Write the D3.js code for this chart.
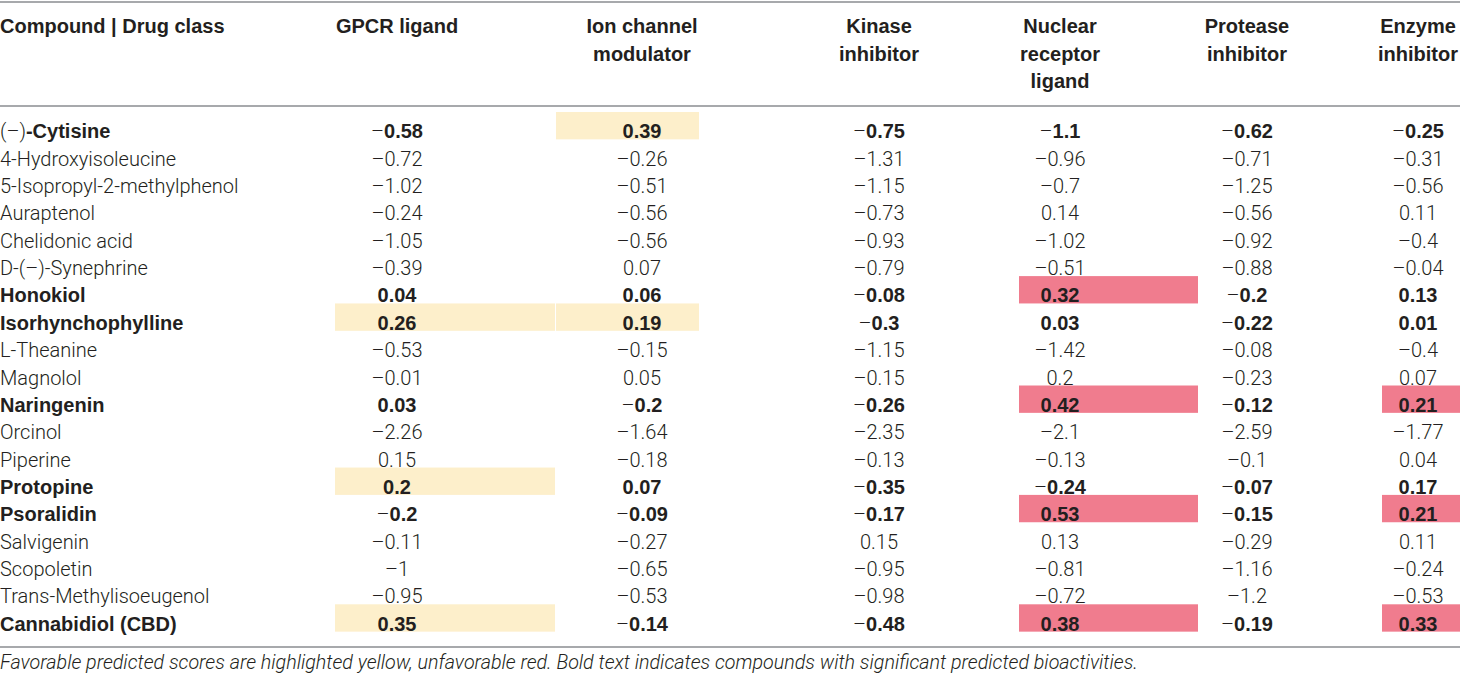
<!DOCTYPE html>
<html>
<head>
<meta charset="utf-8">
<script src="https://cdn.jsdelivr.net/npm/d3@7"></script>
<style>
  body { margin: 0; background: #fff; }
  svg { display: block; }
  text { font-family: Roboto, "Liberation Sans", sans-serif; fill: #231f20; }
  .b { font-family: "Liberation Sans", Arial, sans-serif; font-weight: 700; }
  .l { font-family: Roboto, sans-serif; font-weight: 300; }
</style>
</head>
<body>
<div id="table"></div>
<script>
// Column headers (drug classes), one array of lines per column
var drugClasses = ['GPCR ligand', 'Ion channel modulator', 'Kinase inhibitor',
                   'Nuclear receptor ligand', 'Protease inhibitor', 'Enzyme inhibitor'];
var headerLines = [['GPCR ligand'], ['Ion channel', 'modulator'], ['Kinase', 'inhibitor'],
                   ['Nuclear', 'receptor', 'ligand'], ['Protease', 'inhibitor'], ['Enzyme', 'inhibitor']];

// Compounds (rows); a leading "(–)" is drawn in light weight
var compounds = ['(–)-Cytisine', '4-Hydroxyisoleucine', '5-Isopropyl-2-methylphenol', 'Auraptenol',
                 'Chelidonic acid', 'D-(–)-Synephrine', 'Honokiol', 'Isorhynchophylline', 'L-Theanine',
                 'Magnolol', 'Naringenin', 'Orcinol', 'Piperine', 'Protopine', 'Psoralidin',
                 'Salvigenin', 'Scopoletin', 'Trans-Methylisoeugenol', 'Cannabidiol (CBD)'];
var significant = ['(–)-Cytisine', 'Honokiol', 'Isorhynchophylline', 'Naringenin',
                   'Protopine', 'Psoralidin', 'Cannabidiol (CBD)'];

// Predicted scores, one array per drug class, in compound order
var gpcr     = [-0.58, -0.72, -1.02, -0.24, -1.05, -0.39, 0.04, 0.26, -0.53, -0.01, 0.03, -2.26, 0.15, 0.2, -0.2, -0.11, -1, -0.95, 0.35];
var ionChan  = [0.39, -0.26, -0.51, -0.56, -0.56, 0.07, 0.06, 0.19, -0.15, 0.05, -0.2, -1.64, -0.18, 0.07, -0.09, -0.27, -0.65, -0.53, -0.14];
var kinase   = [-0.75, -1.31, -1.15, -0.73, -0.93, -0.79, -0.08, -0.3, -1.15, -0.15, -0.26, -2.35, -0.13, -0.35, -0.17, 0.15, -0.95, -0.98, -0.48];
var nuclear  = [-1.1, -0.96, -0.7, 0.14, -1.02, -0.51, 0.32, 0.03, -1.42, 0.2, 0.42, -2.1, -0.13, -0.24, 0.53, 0.13, -0.81, -0.72, 0.38];
var protease = [-0.62, -0.71, -1.25, -0.56, -0.92, -0.88, -0.2, -0.22, -0.08, -0.23, -0.12, -2.59, -0.1, -0.07, -0.15, -0.29, -1.16, -1.2, -0.19];
var enzyme   = [-0.25, -0.31, -0.56, 0.11, -0.4, -0.04, 0.13, 0.01, -0.4, 0.07, 0.21, -1.77, 0.04, 0.17, 0.21, 0.11, -0.24, -0.53, 0.33];

// Highlighted cells: [compound, drug class]
var favorable = [['(–)-Cytisine', 'Ion channel modulator'], ['Isorhynchophylline', 'GPCR ligand'],
                 ['Isorhynchophylline', 'Ion channel modulator'], ['Protopine', 'GPCR ligand'],
                 ['Cannabidiol (CBD)', 'GPCR ligand']];
var unfavorable = [['Honokiol', 'Nuclear receptor ligand'], ['Naringenin', 'Nuclear receptor ligand'],
                   ['Naringenin', 'Enzyme inhibitor'], ['Psoralidin', 'Nuclear receptor ligand'],
                   ['Psoralidin', 'Enzyme inhibitor'], ['Cannabidiol (CBD)', 'Nuclear receptor ligand'],
                   ['Cannabidiol (CBD)', 'Enzyme inhibitor']];

var footnote = 'Favorable predicted scores are highlighted yellow, unfavorable red. Bold text indicates compounds with significant predicted bioactivities.';

var scores = [gpcr, ionChan, kinase, nuclear, protease, enzyme];

// Layout
var width = 1460, height = 680;

var svg = d3.select('#table')
            .append('svg')
            .attr('width', width)
            .attr('height', height);

// Column text centres and cell extents
var colX = d3.scaleOrdinal()
             .domain(drugClasses)
             .range([397, 642, 879, 1060, 1247, 1418]);
var cellLeft = d3.scaleOrdinal()
                 .domain(drugClasses)
                 .range([335, 556, 699, 1019, 1198, 1382]);
var cellRight = d3.scaleOrdinal()
                  .domain(drugClasses)
                  .range([555, 699, 1019, 1198, 1382, 1460]);

// Row bands
var y = d3.scaleBand()
          .domain(compounds)
          .range([112, 112 + 19 * 27.35])
          .paddingInner(0);

// Rules
var rules = [2, 106, 647];
svg.selectAll('line.rule')
   .data(rules)
   .enter().append('line')
   .attr('class', 'rule')
   .attr('x1', 0)
   .attr('x2', width)
   .attr('y1', function(d) { return d; })
   .attr('y2', function(d) { return d; })
   .attr('stroke', '#a7a9ac')
   .attr('stroke-width', 2);

// Highlight cells
function drawCells(cells, colour) {
  svg.append('g')
     .selectAll('rect')
     .data(cells)
     .enter().append('rect')
     .attr('x', function(d) { return cellLeft(d[1]); })
     .attr('y', function(d) { return y(d[0]); })
     .attr('width', function(d) { return cellRight(d[1]) - cellLeft(d[1]); })
     .attr('height', y.bandwidth())
     .attr('fill', colour);
}
drawCells(favorable, '#fdefcb');
drawCells(unfavorable, '#f07c8e');

var boldSize = 20, lightSize = 20;

// Header
var header = svg.append('g').attr('font-size', boldSize);

header.append('text')
      .attr('class', 'b')
      .attr('x', 0)
      .attr('y', 33)
      .text('Compound | Drug class');

drugClasses.forEach(function(c, i) {
  header.append('text')
        .attr('class', 'b')
        .attr('text-anchor', 'middle')
        .selectAll('tspan')
        .data(headerLines[i])
        .enter().append('tspan')
        .attr('x', colX(c))
        .attr('y', function(d, j) { return 33 + j * 27.5; })
        .text(function(d) { return d; });
});

// Body rows
var rows = svg.append('g')
              .selectAll('g')
              .data(compounds)
              .enter().append('g')
              .attr('transform', function(d) { return 'translate(0,' + (y(d) + y.bandwidth() - 1) + ')'; });

function isBold(name) { return significant.indexOf(name) >= 0; }

// compound names: in bold rows a leading "(–)" stays light
rows.append('text')
    .attr('x', 0)
    .each(function(name) {
      var t = d3.select(this);
      if (isBold(name)) {
        var m = name.match(/^(\(–\))(.*)$/);
        if (m) {
          t.append('tspan').attr('class', 'l').attr('font-size', lightSize).text(m[1]);
          t.append('tspan').attr('class', 'b').attr('font-size', boldSize).text(m[2]);
        } else {
          t.append('tspan').attr('class', 'b').attr('font-size', boldSize).text(name);
        }
      } else {
        t.append('tspan').attr('class', 'l').attr('font-size', lightSize).text(name);
      }
    });

// score cells: minus sign drawn as light en dash
rows.each(function(name, r) {
  var g = d3.select(this);
  drugClasses.forEach(function(c, k) {
    var v = scores[k][r];
    var t = g.append('text')
             .attr('x', colX(c))
             .attr('text-anchor', 'middle');
    if (v < 0) t.append('tspan').attr('class', 'l').attr('font-size', lightSize).text('–');
    t.append('tspan')
     .attr('class', isBold(name) ? 'b' : 'l')
     .attr('font-size', isBold(name) ? boldSize : lightSize)
     .text(String(Math.abs(v)));
  });
});

// Footnote
svg.append('text')
   .attr('class', 'l')
   .attr('x', 0)
   .attr('y', 669)
   .attr('font-size', 19.7)
   .attr('font-style', 'italic')
   .text(footnote);
</script>
</body>
</html>
